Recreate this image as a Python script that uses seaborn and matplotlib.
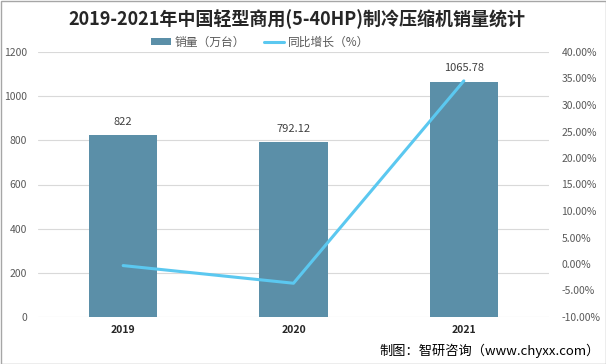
import matplotlib
matplotlib.use("Agg")
import matplotlib.pyplot as plt
import seaborn as sns
import pandas as pd
from matplotlib.patches import Rectangle
from matplotlib.lines import Line2D
from matplotlib.patches import Patch

years = ["2019", "2020", "2021"]
sales = [822, 792.12, 1065.78]
growth = [-0.3, -3.63, 34.55]
sales_labels = ["822", "792.12", "1065.78"]
left_ticks = [0, 200, 400, 600, 800, 1000, 1200]
right_ticks = [-10, -5, 0, 5, 10, 15, 20, 25, 30, 35, 40]

sns.set_theme(style="white")
plt.rcParams['font.family'] = ['Noto Sans CJK SC', 'DejaVu Sans']

BAR = "#5B8FA8"
LINE = "#5BC8F0"
GRID = "#D9D9D9"
TXT = "#595959"

fig = plt.figure(figsize=(6.06, 3.64), dpi=100)
ax = fig.add_axes([38/606, 1-317/364, (549-38)/606, (317-52)/364])

df = pd.DataFrame({"year": years, "sales": sales, "growth": growth})
sns.barplot(data=df, x="year", y="sales", ax=ax, color=BAR, width=0.4,
            saturation=1, edgecolor="none")
ax.set_ylim(0, 1200)
ax.set_yticks(left_ticks)
ax.set_xlim(-0.5, 2.5)
ax.grid(axis="y", color=GRID, linewidth=0.8)
ax.set_axisbelow(True)
for s in ax.spines.values():
    s.set_visible(False)
ax.set_xlabel("")
ax.set_ylabel("")
ax.tick_params(axis="y", colors=TXT, labelsize=7.5, length=0, pad=8)
ax.tick_params(axis="x", colors="#262626", labelsize=7.5, length=0, pad=6)
for lab in ax.get_xticklabels():
    lab.set_fontweight("bold")
for lab in ax.get_yticklabels():
    lab.set_color(TXT)

for i, (v, t) in enumerate(zip(sales, sales_labels)):
    ax.annotate(t, (i, v), xytext=(0, 6), textcoords="offset points",
                ha="center", va="bottom", fontsize=8, color="#404040")

ax2 = ax.twinx()
df["pos"] = range(len(years))
sns.lineplot(data=df, x="pos", y="growth", ax=ax2, color=LINE, linewidth=2.2)
ax2.set_ylim(-10, 40)
ax2.set_yticks(right_ticks)
ax2.set_yticklabels([f"{t:.2f}%" for t in right_ticks])
ax2.set_xlim(-0.5, 2.5)
ax2.set_ylabel("")
ax2.set_xlabel("")
for s in ax2.spines.values():
    s.set_visible(False)
ax2.tick_params(axis="y", colors=TXT, labelsize=7.5, length=0, pad=9)
ax2.grid(False)

fig.text(297/606, 1-19/364, "2019-2021年中国轻型商用(5-40HP)制冷压缩机销量统计",
         ha="center", va="center", fontsize=13, fontweight="bold", color="#262626")

handles = [Patch(facecolor=BAR, edgecolor="none"),
           Line2D([0], [0], color=LINE, linewidth=2.2)]
fig.legend(handles, ["销量（万台）", "同比增长（%）"], loc="center",
           bbox_to_anchor=(260/606, 1-42/364), ncol=2, frameon=False,
           fontsize=8.5, handlelength=1.7, handleheight=0.6, columnspacing=1.6,
           labelcolor=TXT, borderpad=0, handletextpad=0.3)

fig.text(600/606, 1-351/364, "制图：智研咨询（www.chyxx.com）", ha="right",
         va="center", fontsize=9.5, color="#000000")

fig.patches.append(Rectangle((0.5/606, 0.5/364), 1-1/606, 1-1/364,
                             transform=fig.transFigure, fill=False,
                             edgecolor="#A6A6A6", linewidth=1))

fig.savefig("out.png", dpi=100)
